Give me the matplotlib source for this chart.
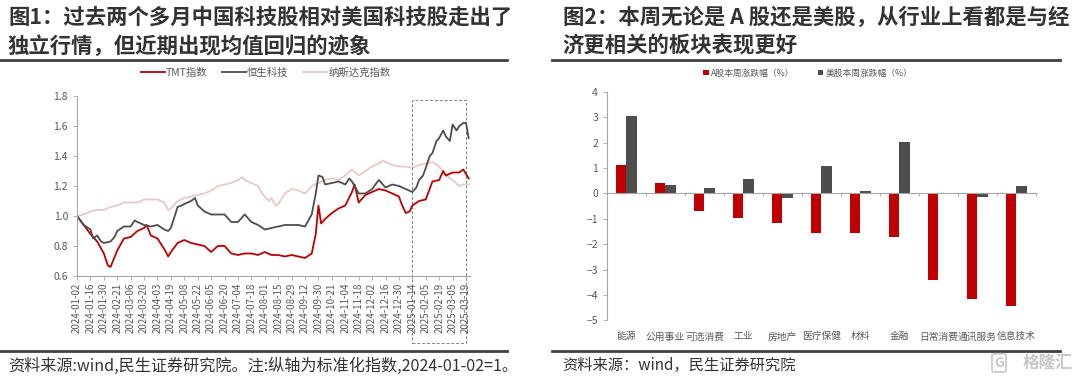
import numpy as np
import matplotlib
matplotlib.use("Agg")
from matplotlib import pyplot as plt
from matplotlib.lines import Line2D
from matplotlib.patches import Rectangle

plt.rcParams['font.family'] = ['Noto Sans CJK SC', 'DejaVu Sans']

# ---- left chart data (trading-day index from 2024-01-02, normalised level) ----
tick_labels = ["2024-01-02", "2024-01-16", "2024-01-30", "2024-02-21", "2024-03-06",
               "2024-03-20", "2024-04-03", "2024-04-19", "2024-05-08", "2024-05-22",
               "2024-06-05", "2024-06-20", "2024-07-04", "2024-07-18", "2024-08-01",
               "2024-08-15", "2024-08-29", "2024-09-12", "2024-09-30", "2024-10-21",
               "2024-11-04", "2024-11-18", "2024-12-02", "2024-12-16", "2024-12-30",
               "2025-01-14", "2025-02-05", "2025-02-19", "2025-03-05", "2025-03-19"]

tmt_idx = [0, 5, 10, 15, 20, 23, 25, 30, 35, 40, 45, 50, 52, 55, 60, 65, 68, 70, 75, 80,
           85, 90, 95, 100, 105, 110, 115, 120, 125, 130, 135, 140, 145, 150, 155, 160,
           165, 170, 175, 178, 180, 182, 185, 190, 195, 200, 205, 207, 210, 215, 220, 225,
           230, 235, 240, 242, 245, 248, 250, 255, 260, 265, 270, 273, 275, 280, 285, 288, 292]
tmt = [1.00, 0.94, 0.88, 0.83, 0.75, 0.67, 0.66, 0.77, 0.85, 0.86, 0.90, 0.92, 0.94, 0.87,
       0.85, 0.78, 0.73, 0.76, 0.82, 0.84, 0.82, 0.81, 0.80, 0.76, 0.80, 0.80, 0.75, 0.74,
       0.75, 0.75, 0.74, 0.76, 0.74, 0.74, 0.73, 0.74, 0.73, 0.72, 0.75, 0.88, 1.07, 0.95,
       0.98, 1.02, 1.05, 1.07, 1.16, 1.21, 1.09, 1.14, 1.16, 1.18, 1.17, 1.15, 1.13, 1.08,
       1.02, 1.03, 1.07, 1.10, 1.11, 1.23, 1.24, 1.30, 1.27, 1.29, 1.29, 1.31, 1.25]

hs_idx = [0, 5, 10, 12, 15, 18, 20, 25, 28, 30, 35, 40, 43, 45, 50, 55, 60, 65, 68, 70,
          75, 78, 80, 85, 88, 90, 95, 100, 105, 110, 115, 120, 125, 130, 135, 140, 145,
          150, 155, 160, 165, 170, 175, 178, 180, 183, 185, 190, 195, 200, 203, 205, 210,
          215, 220, 225, 230, 235, 240, 245, 250, 253, 255, 258, 260, 263, 265, 268, 270,
          273, 275, 278, 280, 283, 285, 288, 290, 292]
hs = [1.00, 0.94, 0.91, 0.85, 0.87, 0.83, 0.82, 0.83, 0.86, 0.90, 0.93, 0.93, 0.97, 0.96,
      0.94, 0.93, 0.94, 0.91, 0.90, 0.92, 1.06, 1.07, 1.08, 1.10, 1.12, 1.07, 1.03, 1.01,
      1.01, 1.01, 0.96, 0.96, 1.01, 0.96, 0.94, 0.91, 0.92, 0.93, 0.94, 0.94, 0.94, 0.93,
      1.01, 1.15, 1.27, 1.26, 1.21, 1.22, 1.23, 1.21, 1.25, 1.23, 1.15, 1.15, 1.18, 1.24,
      1.19, 1.21, 1.20, 1.18, 1.16, 1.19, 1.24, 1.27, 1.32, 1.40, 1.42, 1.50, 1.52, 1.57,
      1.53, 1.50, 1.61, 1.57, 1.60, 1.62, 1.62, 1.52]

nas_idx = [0, 5, 10, 15, 20, 25, 30, 35, 40, 45, 50, 55, 60, 65, 68, 70, 75, 80, 85, 90,
           95, 100, 105, 110, 115, 120, 123, 125, 130, 135, 138, 140, 143, 145, 148, 150,
           155, 160, 165, 170, 175, 180, 185, 190, 195, 200, 205, 210, 215, 220, 225, 228,
           230, 235, 240, 245, 250, 255, 260, 265, 270, 273, 275, 280, 285, 288, 290, 292]
nas = [1.00, 1.01, 1.03, 1.04, 1.04, 1.06, 1.07, 1.09, 1.09, 1.09, 1.11, 1.11, 1.11, 1.09,
       1.04, 1.05, 1.10, 1.12, 1.13, 1.14, 1.15, 1.17, 1.20, 1.21, 1.22, 1.24, 1.26, 1.24,
       1.22, 1.20, 1.15, 1.13, 1.10, 1.12, 1.07, 1.08, 1.15, 1.18, 1.17, 1.15, 1.20, 1.22,
       1.24, 1.25, 1.24, 1.27, 1.31, 1.27, 1.30, 1.33, 1.35, 1.37, 1.36, 1.34, 1.33, 1.33,
       1.32, 1.34, 1.35, 1.36, 1.33, 1.29, 1.27, 1.24, 1.20, 1.21, 1.21, 1.21]

# ---- right chart data ----
sectors = ["能源", "公用事业", "可选消费", "工业", "房地产", "医疗保健", "材料", "金融",
           "日常消费", "通讯服务", "信息技术"]
a_chg = [1.10, 0.42, -0.70, -0.98, -1.15, -1.55, -1.55, -1.70, -3.41, -4.17, -4.43]
us_chg = [3.04, 0.33, 0.20, 0.56, -0.20, 1.08, 0.09, 2.03, -0.02, -0.13, 0.29]

RED = "#C00000"
DARK = "#4D4D4D"
PINK = "#EFC6C6"
AXC = "#A6A6A6"
TXT = "#595959"

fig = plt.figure(figsize=(10.8, 3.76), dpi=100)

# ---------------- left panel ----------------
ax1 = fig.add_axes([0.0713, 0.266, 0.3639, 0.4787])
ax1.plot(tmt_idx, tmt, color=RED, lw=1.3, label="TMT指数")
ax1.plot(hs_idx, hs, color=DARK, lw=1.3, label="恒生科技")
ax1.plot(nas_idx, nas, color=PINK, lw=1.3, label="纳斯达克指数", zorder=1)
ax1.set_xlim(0, 293)
ax1.set_ylim(0.6, 1.8)
ax1.set_yticks(np.arange(0.6, 1.81, 0.2))
ax1.set_yticklabels([f"{v:.1f}" for v in np.arange(0.6, 1.81, 0.2)])
ax1.set_xticks(np.arange(len(tick_labels)) * 10)
ax1.set_xticklabels(tick_labels, rotation=90)
for s in ["top", "right"]:
    ax1.spines[s].set_visible(False)
for s in ["left", "bottom"]:
    ax1.spines[s].set_color(AXC)
    ax1.spines[s].set_linewidth(0.8)
ax1.tick_params(axis="both", colors=AXC, labelcolor=TXT, labelsize=7.5, length=3, width=0.6)
ax1.tick_params(axis="x", labelsize=7, pad=2)
ax1.add_patch(Rectangle((250, 0.153), 40, 1.62, fill=False, ls=(0, (3, 2)),
                        ec="#808080", lw=0.7, clip_on=False))
fig.legend(handles=ax1.get_lines(), loc="center", bbox_to_anchor=(0.246, 0.806), ncol=3,
           frameon=False, fontsize=7.5, handlelength=2.3, handletextpad=0.1,
           columnspacing=1.4, labelcolor=TXT)

# ---------------- right panel ----------------
ax2 = fig.add_axes([0.562, 0.148, 0.3972, 0.608])
x = np.arange(len(sectors))
w = 0.275
ax2.bar(x - w / 2, a_chg, w, color=RED, label="A股本周涨跌幅（%）")
ax2.bar(x + w / 2, us_chg, w, color=DARK, label="美股本周涨跌幅（%）")
ax2.set_xlim(-0.5, len(sectors) - 0.5)
ax2.set_ylim(-5, 4)
ax2.set_yticks(np.arange(-5, 5))
for s in ["top", "right"]:
    ax2.spines[s].set_visible(False)
ax2.spines["left"].set_color(AXC)
ax2.spines["left"].set_linewidth(0.8)
ax2.spines["bottom"].set_position(("data", 0))
ax2.spines["bottom"].set_color(AXC)
ax2.spines["bottom"].set_linewidth(0.8)
ax2.set_xticks(np.arange(-0.5, len(sectors) + 0.5, 1.0))
ax2.set_xticklabels([])
ax2.tick_params(axis="x", colors=AXC, length=2.5, width=0.6)
ax2.tick_params(axis="y", colors=AXC, labelcolor=TXT, labelsize=7.5, length=3, width=0.6)
sec = ax2.secondary_xaxis("bottom")
sec.set_xticks(x)
sec.set_xticklabels(sectors)
sec.spines["bottom"].set_visible(False)
sec.tick_params(length=0, labelsize=7, labelcolor=TXT, pad=8)
fig.legend(handles=ax2.patches[:1] + ax2.patches[len(sectors):len(sectors) + 1],
           labels=["A股本周涨跌幅（%）", "美股本周涨跌幅（%）"],
           loc="center", bbox_to_anchor=(0.748, 0.806), ncol=2, frameon=False,
           fontsize=6.3, handlelength=0.6, handleheight=0.6, handletextpad=0.3,
           columnspacing=2.6, labelcolor=TXT)

# ---------------- titles, rules, sources ----------------
TC = "#333333"
fig.text(0.0074, 0.955, "图1：过去两个多月中国科技股相对美国科技股走出了", fontsize=15.4,
         fontweight="bold", color=TC, va="center")
fig.text(0.0074, 0.878, "独立行情，但近期出现均值回归的迹象", fontsize=15.4,
         fontweight="bold", color=TC, va="center")
fig.text(0.521, 0.955, "图2：本周无论是 A 股还是美股，从行业上看都是与经", fontsize=15.4,
         fontweight="bold", color=TC, va="center")
fig.text(0.521, 0.878, "济更相关的板块表现更好", fontsize=15.4,
         fontweight="bold", color=TC, va="center")
for x0, x1 in [(0.0, 507 / 1080), (552 / 1080, 1060 / 1080)]:
    fig.add_artist(Line2D([x0, x1], [0.840, 0.840], color="#404040", lw=2))
    fig.add_artist(Line2D([x0, x1], [0.066, 0.066], color="#404040", lw=2))
fig.text(0.0074, 0.027, "资料来源:wind,民生证券研究院。注:纵轴为标准化指数,2024-01-02=1。",
         fontsize=11.6, color=TC, va="center")
fig.text(0.521, 0.027, "资料来源：wind，民生证券研究院", fontsize=11, color=TC, va="center")
fig.text(0.993, 0.035, "格隆汇", fontsize=12, color="#C8C8C8", ha="right", va="center",
         fontweight="bold")
fig.text(0.925, 0.035, "G", fontsize=10, color="#C8C8C8", ha="center", va="center",
         fontweight="bold",
         bbox=dict(boxstyle="round,pad=0.15", fc="none", ec="#C8C8C8", lw=1.2))

fig.savefig("out.png", dpi=100)
